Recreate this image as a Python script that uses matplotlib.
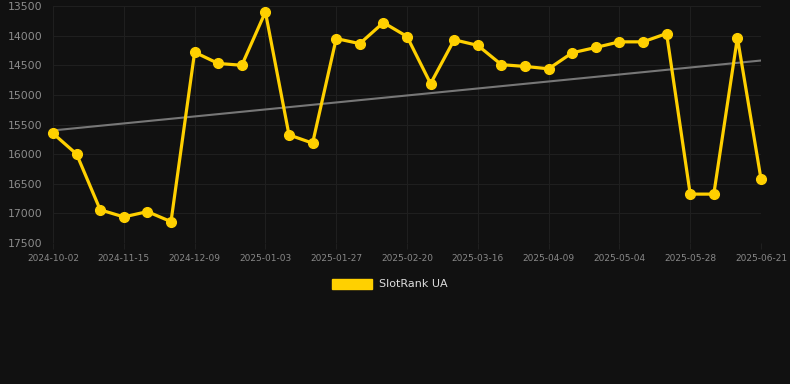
import matplotlib
matplotlib.use("Agg")
import matplotlib.pyplot as plt
from matplotlib.patches import Patch
import numpy as np

tick_labels = ["2024-10-02", "2024-11-15", "2024-12-09", "2025-01-03", "2025-01-27",
               "2025-02-20", "2025-03-16", "2025-04-09", "2025-05-04", "2025-05-28",
               "2025-06-21"]
rank = [15650, 16000, 16940, 17060, 16970, 17140, 14280, 14470, 14500, 13600,
        15675, 15815, 14050, 14135, 13780, 14015, 14810, 14070, 14165, 14490,
        14520, 14560, 14290, 14200, 14105, 14105, 13965, 16675, 16675, 14035,
        16420]
trend = [15600, 14420]
series_name = "SlotRank UA"

BG = "#111111"
GOLD = "#FFD000"

fig = plt.figure(figsize=(7.9, 3.84), dpi=100, facecolor=BG)
ax = fig.add_axes([53/790, 1-243/384, (761-53)/790, (243-6)/384], facecolor=BG)

x = np.arange(len(rank))
ax.plot([x[0], x[-1]], trend, color="#777777", lw=1.5, zorder=2)
ax.plot(x, rank, color=GOLD, lw=2.3, marker="o", ms=7, solid_joinstyle="miter",
        zorder=3, clip_on=False)

ax.set_xlim(0, len(rank) - 1)
ax.set_ylim(17500, 13500)
ax.set_yticks(np.arange(13500, 17501, 500))
ax.set_xticks(x[::3])
ax.set_xticklabels(tick_labels)
ax.grid(True, color="#1f1f1f", lw=0.8)
ax.set_axisbelow(True)
for s in ax.spines.values():
    s.set_visible(False)
ax.tick_params(axis="y", length=0, pad=7.5, labelsize=7.8, labelcolor="#8c8c8c")
ax.tick_params(axis="x", length=4, color="#1f1f1f", pad=4, labelsize=6.5, labelcolor="#888888")

fig.legend(handles=[Patch(facecolor=GOLD, edgecolor=GOLD)], labels=[series_name],
           loc="center", bbox_to_anchor=(390/790, 1-284/384), frameon=False,
           fontsize=8, labelcolor="#dddddd", handlelength=3.6, handleheight=1.05,
           handletextpad=0.6)

fig.savefig("out.png", dpi=100, facecolor=BG)
